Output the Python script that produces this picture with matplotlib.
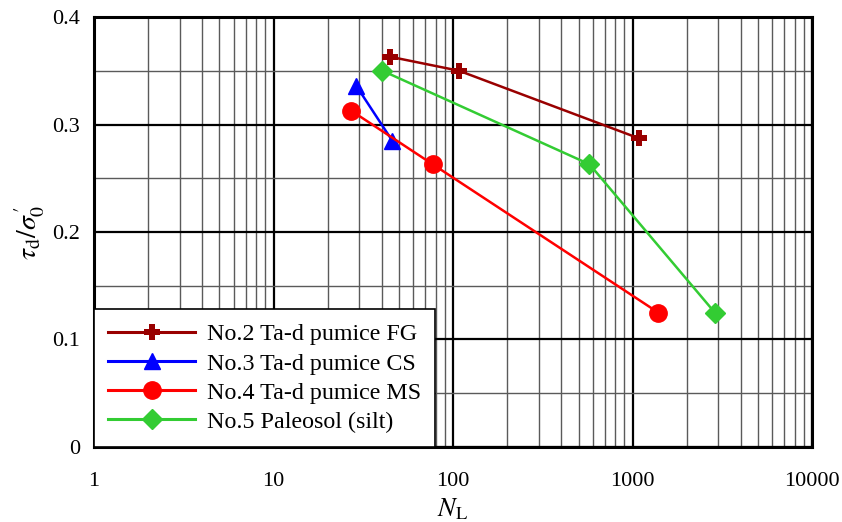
import matplotlib
matplotlib.use('Agg')
import matplotlib.pyplot as plt
import numpy as np
from matplotlib.ticker import LogLocator, FixedLocator, NullFormatter

plt.rcParams['font.family'] = ['Liberation Serif', 'DejaVu Serif']
plt.rcParams['mathtext.fontset'] = 'stix'

# cycles to liquefaction vs cyclic stress ratio
nl_fg = [44.7, 108, 1090]
csr_fg = [0.363, 0.350, 0.287]
nl_cs = [28.9, 45.8]
csr_cs = [0.336, 0.285]
nl_ms = [27, 77, 1390]
csr_ms = [0.313, 0.263, 0.125]
nl_silt = [40.4, 575, 2870]
csr_silt = [0.350, 0.263, 0.125]

labels = ['No.2 Ta-d pumice FG', 'No.3 Ta-d pumice CS',
          'No.4 Ta-d pumice MS', 'No.5 Paleosol (silt)']

fig = plt.figure(figsize=(8.42, 5.22), dpi=100)
ax = fig.add_axes([0.1116, 0.1437, 0.853, 0.8237])

ax.plot(nl_fg, csr_fg, color='#990000', lw=1.8, marker='P', ms=11,
        mew=0, label=labels[0], zorder=5)
ax.plot(nl_cs, csr_cs, color='#0000ff', lw=1.8, marker='^', ms=12,
        label=labels[1], zorder=5)
ax.plot(nl_ms, csr_ms, color='#ff0000', lw=1.8, marker='o', ms=12.5,
        label=labels[2], zorder=5)
ax.plot(nl_silt, csr_silt, color='#33cc33', lw=1.8, marker='D', ms=10,
        label=labels[3], zorder=5)

ax.set_xscale('log')
ax.set_xlim(1, 10000)
ax.set_ylim(0, 0.4)
ax.set_xticks([1, 10, 100, 1000, 10000])
ax.set_xticklabels(['1', '10', '100', '1000', '10000'])
ax.xaxis.set_minor_locator(LogLocator(base=10, subs=np.arange(2, 10)))
ax.xaxis.set_minor_formatter(NullFormatter())
ax.set_yticks([0, 0.1, 0.2, 0.3, 0.4])
ax.set_yticklabels(['0', '0.1', '0.2', '0.3', '0.4'])
ax.yaxis.set_minor_locator(FixedLocator([0.05, 0.15, 0.25, 0.35]))

ax.grid(which='major', color='black', lw=1.6)
ax.grid(which='minor', color='#5a5a5a', lw=1.0)
ax.tick_params(which='both', length=0, labelsize=16)
ax.tick_params(axis='x', pad=18)
ax.tick_params(axis='y', pad=10)
for s in ax.spines.values():
    s.set_linewidth(2.2)

ax.set_xlabel(r'$N_{\rm L}$', fontsize=19, labelpad=4)
ax.set_ylabel(r"$\tau_{\rm d}/\sigma_0^{\,\prime}$", fontsize=20, labelpad=4)

leg = ax.legend(loc='lower left', borderaxespad=0, fontsize=17.3,
                fancybox=False, edgecolor='black', framealpha=1,
                handlelength=3.6, handletextpad=0.5, labelspacing=0.3,
                borderpad=0.6)
leg.get_frame().set_linewidth(1.2)
for ln in leg.get_lines():
    ln.set_linewidth(2.2)
leg.set_zorder(10)

fig.savefig('out.png', dpi=100)
